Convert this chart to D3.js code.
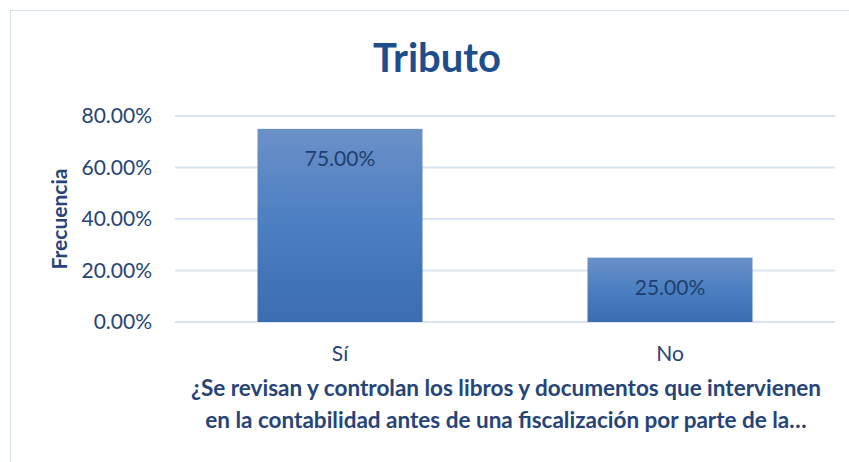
<!DOCTYPE html>
<html>
<head>
<meta charset="utf-8">
<script src="https://cdn.jsdelivr.net/npm/d3@7"></script>
<style>
  body { margin: 0; background: #fff; }
  text { font-family: Lato, "Open Sans", sans-serif; }
</style>
</head>
<body>
<div id="canvas"></div>
<script>
const width = 849;
const height = 462;

// data
const categories = ["Sí", "No"];
const values = [0.75, 0.25];
const yTicks = [0, 0.2, 0.4, 0.6, 0.8];

const textColor = "#264478";

const svg = d3.select("#canvas")
    .append("svg")
    .attr("width", width)
    .attr("height", height);

// chart area border
svg.append("rect")
    .attr("x", 10.5)
    .attr("y", 10.5)
    .attr("width", 845)
    .attr("height", 460)
    .attr("fill", "white")
    .attr("stroke", "#D6E0EE");

const grad = svg.append("defs").append("linearGradient")
    .attr("id", "barGrad")
    .attr("x1", 0).attr("y1", 0).attr("x2", 0).attr("y2", 1);
grad.append("stop").attr("offset", "0%").attr("stop-color", "#6B90C8");
grad.append("stop").attr("offset", "50%").attr("stop-color", "#4A7FC1");
grad.append("stop").attr("offset", "100%").attr("stop-color", "#3B6DB0");

var xScale = d3.scaleBand()
    .domain(categories)
    .range([175, 835])
    .paddingInner(0.5)
    .paddingOuter(0.25);

var yScale = d3.scaleLinear()
    .domain([0, 0.8])
    .range([322, 116]);

// gridlines
svg.selectAll(".grid")
    .data(yTicks)
    .join("line")
    .attr("class", "grid")
    .attr("x1", 175)
    .attr("x2", 835)
    .attr("y1", d => yScale(d))
    .attr("y2", d => yScale(d))
    .attr("stroke", "#D9E3F1")
    .attr("stroke-width", 2);

// y tick labels
svg.selectAll(".ytick")
    .data(yTicks)
    .join("text")
    .attr("class", "ytick")
    .attr("x", 152)
    .attr("y", d => yScale(d))
    .attr("dy", "0.35em")
    .attr("text-anchor", "end")
    .attr("font-size", "21px")
    .attr("fill", textColor)
    .text(d => d3.format(".2%")(d));

// bars
svg.selectAll(".bar")
    .data(values)
    .join("rect")
    .attr("class", "bar")
    .attr("x", (d, i) => xScale(categories[i]))
    .attr("width", xScale.bandwidth())
    .attr("y", d => yScale(d))
    .attr("height", d => yScale(0) - yScale(d))
    .attr("fill", "url(#barGrad)");

// value labels
svg.selectAll(".vlabel")
    .data(values)
    .join("text")
    .attr("class", "vlabel")
    .attr("x", (d, i) => xScale(categories[i]) + xScale.bandwidth() / 2)
    .attr("y", d => yScale(d) + 37)
    .attr("text-anchor", "middle")
    .attr("font-size", "21px")
    .attr("fill", "#1F3F6E")
    .text(d => d3.format(".2%")(d));

// x tick labels
svg.selectAll(".xtick")
    .data(categories)
    .join("text")
    .attr("class", "xtick")
    .attr("x", d => xScale(d) + xScale.bandwidth() / 2)
    .attr("y", 361)
    .attr("text-anchor", "middle")
    .attr("font-size", "21px")
    .attr("fill", textColor)
    .text(d => d);

// title
svg.append("text")
    .attr("x", 437)
    .attr("y", 72)
    .attr("text-anchor", "middle")
    .attr("font-size", "40px")
    .attr("font-weight", "bold")
    .attr("fill", "#1F4E8C")
    .text("Tributo");

// y axis title
svg.append("text")
    .attr("transform", "translate(67,219) rotate(-90)")
    .attr("text-anchor", "middle")
    .attr("font-size", "21px")
    .attr("font-weight", "bold")
    .attr("fill", textColor)
    .text("Frecuencia");

// x axis title
var xTitle = ["¿Se revisan y controlan los libros y documentos que intervienen",
    "en la contabilidad antes de una fiscalización por parte de la…"];
svg.selectAll(".xtitle")
    .data(xTitle)
    .join("text")
    .attr("class", "xtitle")
    .attr("x", 506)
    .attr("y", (d, i) => 396 + i * 32)
    .attr("text-anchor", "middle")
    .attr("font-size", "22.5px")
    .attr("font-weight", "bold")
    .attr("fill", textColor)
    .text(d => d);
</script>
</body>
</html>
